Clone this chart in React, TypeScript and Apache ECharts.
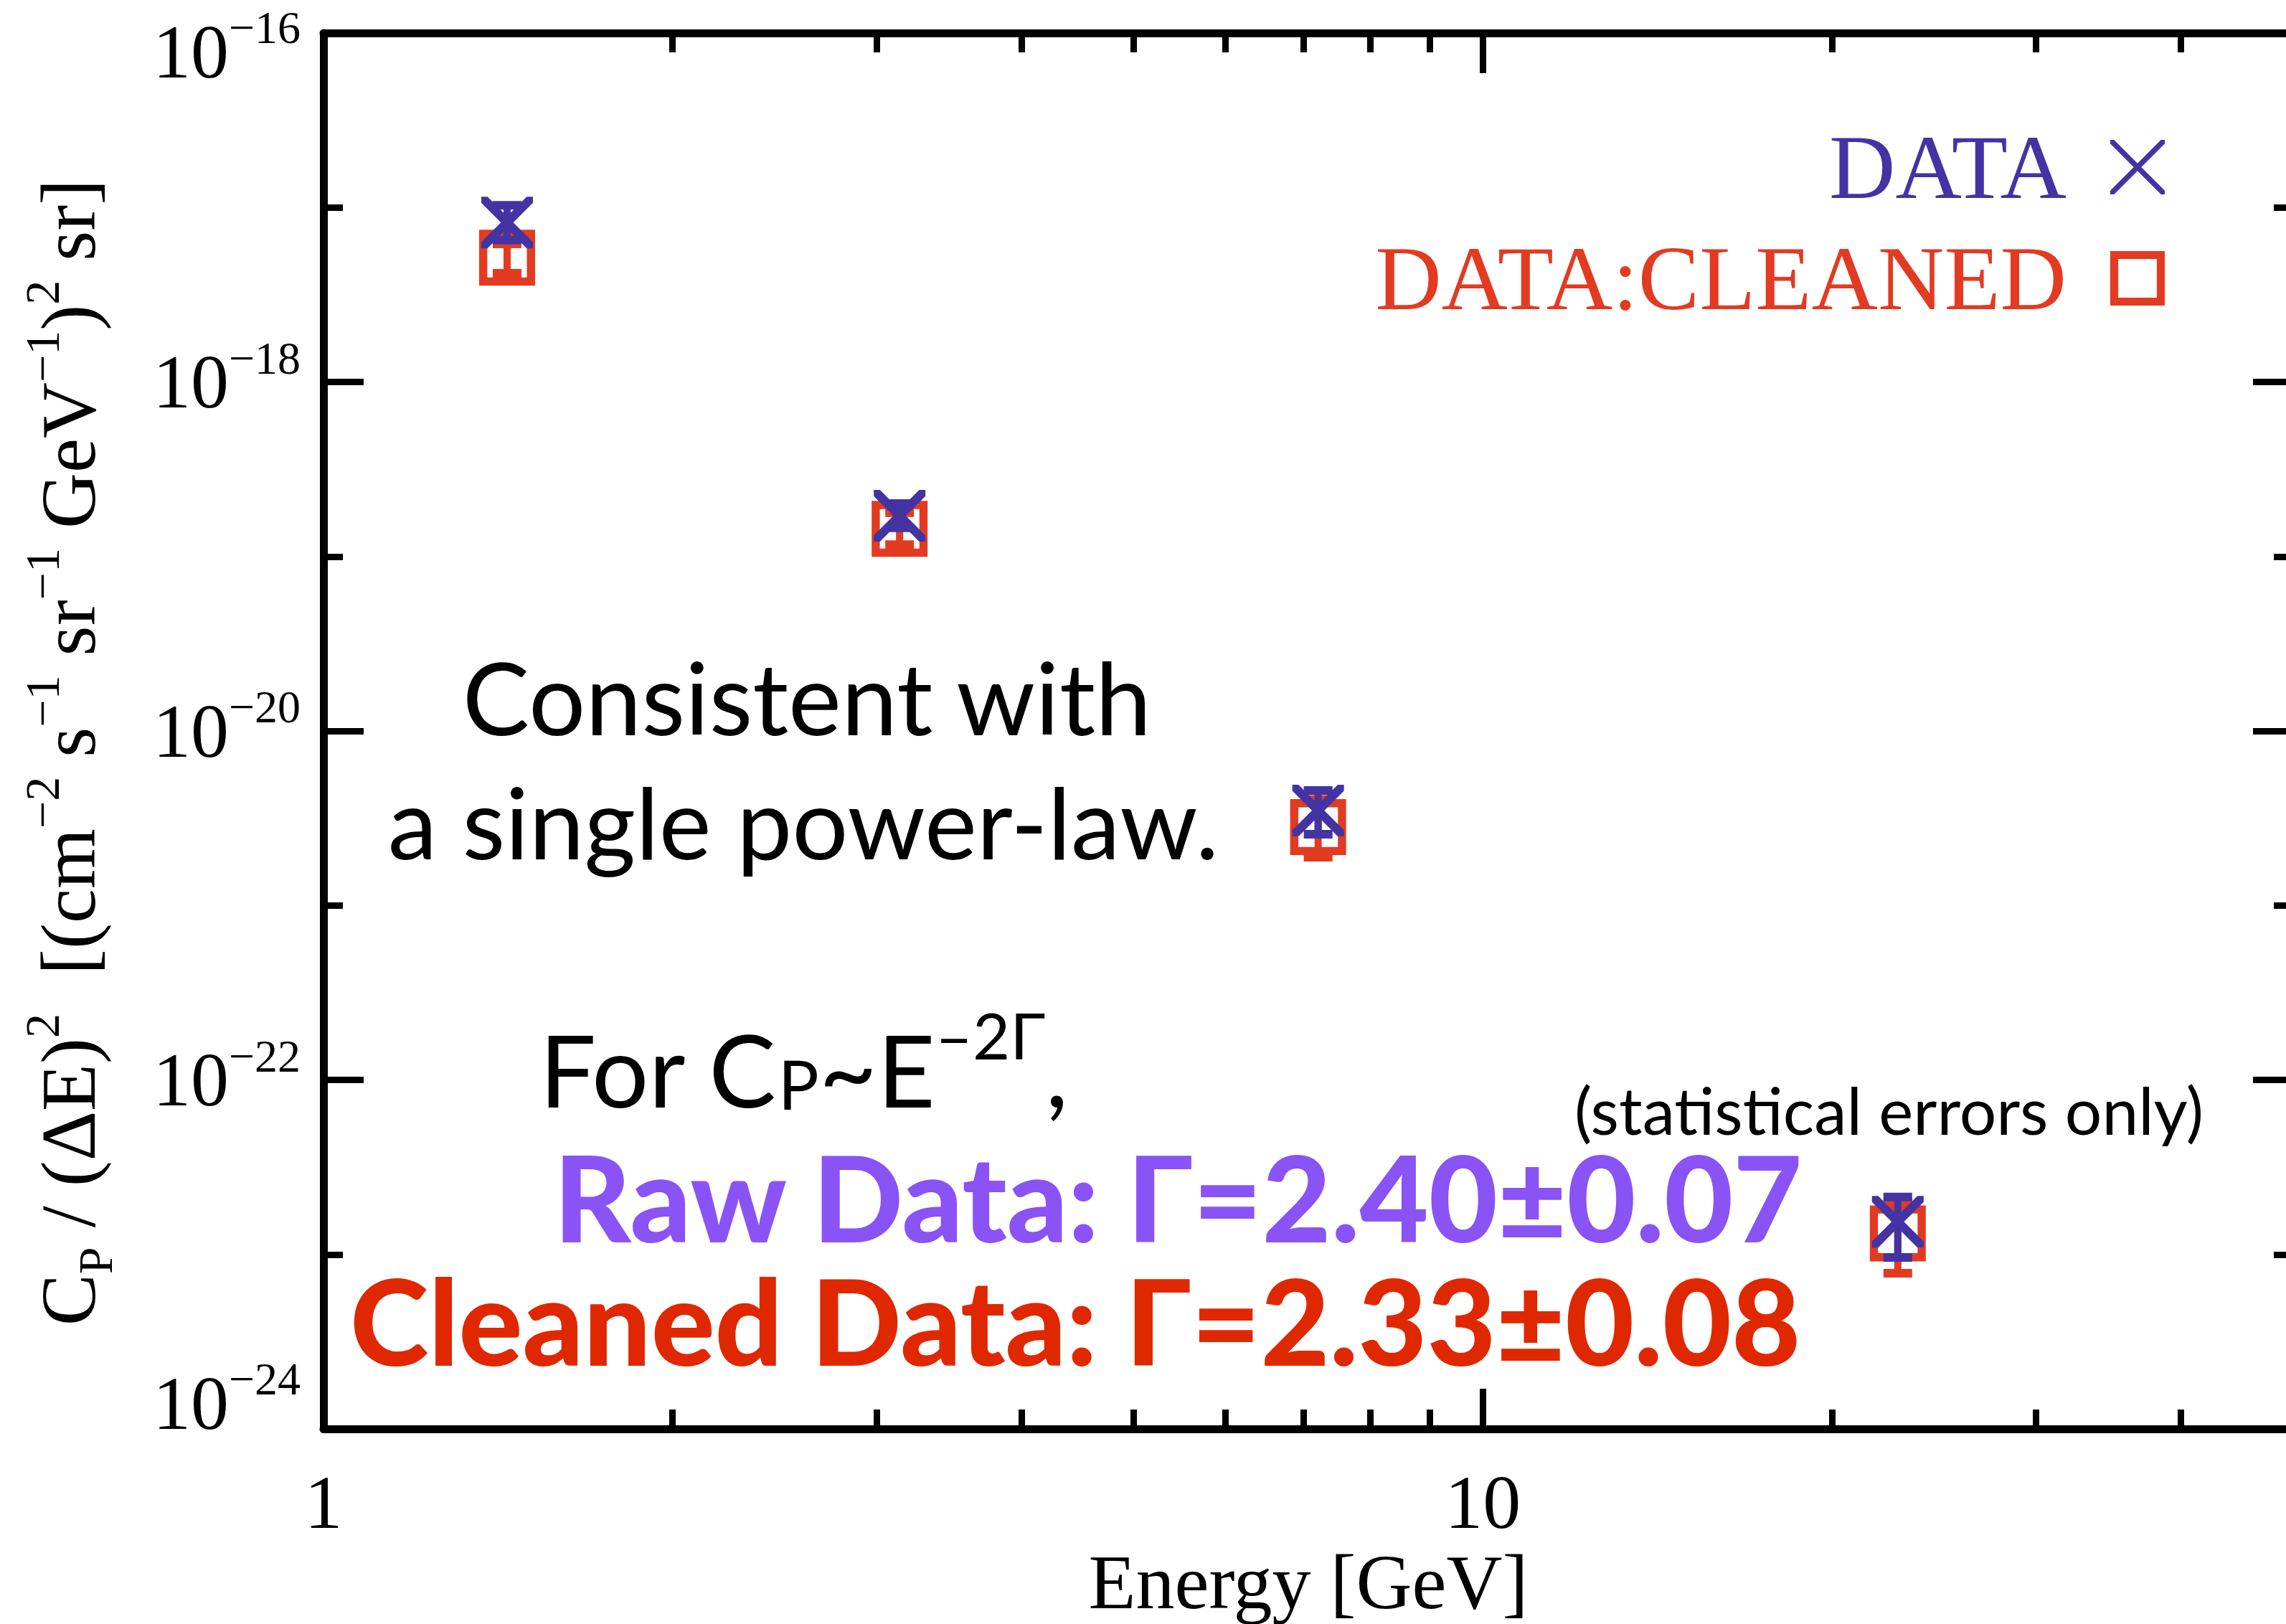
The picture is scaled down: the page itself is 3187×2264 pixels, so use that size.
import React, { useEffect, useRef } from "react";
import * as echarts from "echarts";

// ---------------- data ----------------
const ENERGY = [1.44, 3.14, 7.21, 22.8]; // GeV
const DATA_VAL = [8.2e-18, 1.71e-19, 3.5e-21, 1.54e-23];
const DATA_LO = [6.5e-18, 1.46e-19, 2.56e-21, 9.6e-24];
const DATA_HI = [1.03e-17, 2.01e-19, 4.56e-21, 2.13e-23];
const CLEAN_VAL = [5.16e-18, 1.44e-19, 2.81e-21, 1.32e-23];
const CLEAN_LO = [4.2e-18, 1.17e-19, 1.89e-21, 7.8e-24];
const CLEAN_HI = [6.18e-18, 1.78e-19, 4.05e-21, 2.0e-23];

const X_MIN = 1;
const X_MAX = 50;
const X_MAJOR_TICKS = [1, 10];
const X_MINOR_TICKS = [2, 3, 4, 5, 6, 7, 8, 9, 20, 30, 40];
const Y_MIN_EXP = -24;
const Y_MAX_EXP = -16;
const Y_LABEL_STEP = 2;

const BLUE = "#4433a3";
const RED = "#e23b22";
const PURPLE_TEXT = "#8a53f5";
const RED_TEXT = "#e02800";

const SERIF = "'Liberation Serif', 'Times New Roman', serif";
const SANS = "Lato, 'Noto Sans', sans-serif";

const X_SYMBOL =
  "path://M0,0H12L50,38L88,0H100V12L62,50L100,88V100H88L50,62L12,100H0V88L38,50L0,12Z";
const X_LEGEND =
  "path://M0,0H7L50,43L93,0H100V7L57,50L100,93V100H93L50,57L7,100H0V93L43,50L0,7Z";
const SQ_SYMBOL = "path://M0,0H82V82H0ZM12,12V70H70V12Z";

const lg = (v: number) => Math.log10(v);

function errSeries(name: string, lo: number[], hi: number[], color: string, z: number) {
  return {
    type: "custom",
    name,
    xAxisIndex: 0,
    yAxisIndex: 0,
    z,
    silent: true,
    data: ENERGY.map((e, i) => [lg(e), lg(lo[i]), lg(hi[i])]),
    encode: { x: 0, y: [1, 2] },
    renderItem: (_params: any, api: any) => {
      const x = api.value(0);
      const a = api.coord([x, api.value(1)]);
      const b = api.coord([x, api.value(2)]);
      const hw = 20;
      return {
        type: "group",
        children: [
          { type: "line", shape: { x1: a[0], y1: a[1], x2: b[0], y2: b[1] }, style: { stroke: color, lineWidth: 10 } },
          { type: "line", shape: { x1: a[0] - hw, y1: a[1], x2: a[0] + hw, y2: a[1] }, style: { stroke: color, lineWidth: 12 } },
          { type: "line", shape: { x1: b[0] - hw, y1: b[1], x2: b[0] + hw, y2: b[1] }, style: { stroke: color, lineWidth: 12 } },
        ],
      };
    },
  };
}

function xAxisDef(position: "top" | "bottom", values: number[], major: boolean, withLabels: boolean, withLine: boolean) {
  return {
    type: "value",
    position,
    min: lg(X_MIN),
    max: lg(X_MAX),
    splitLine: { show: false },
    axisLine: { show: withLine, onZero: false, lineStyle: { color: "#000", width: 11 } },
    axisTick: {
      show: true,
      inside: true,
      length: major ? 56 : 27,
      customValues: values.map(lg),
      lineStyle: { color: "#000", width: 9 },
    },
    axisLabel: withLabels
      ? {
          show: true,
          customValues: values.map(lg),
          formatter: (v: number) => String(Math.round(Math.pow(10, v))),
          margin: 49,
          fontFamily: SERIF,
          fontSize: 106,
          lineHeight: 106,
          color: "#000",
          showMinLabel: true,
          showMaxLabel: true,
        }
      : { show: false },
    name: withLabels ? "Energy [GeV]" : "",
    nameLocation: "middle",
    nameGap: 156,
    nameTextStyle: { fontFamily: SERIF, fontSize: 108, lineHeight: 108, color: "#000" },
  };
}

function yLabel(v: number) {
  const e = Math.round(v);
  const exp = "\u2212" + Math.abs(e);
  if (e === Y_MAX_EXP) return `{bt|10}{st|${exp}}`;
  if (e === Y_MIN_EXP) return `{bb|10}{sb|${exp}}`;
  return `{b|10}{s|${exp}}`;
}

const yRich = {
  b: { fontFamily: SERIF, fontSize: 106, lineHeight: 106, color: "#000" },
  s: { fontFamily: SERIF, fontSize: 64, lineHeight: 64, padding: [0, 0, 67, 0], color: "#000" },
  bt: { fontFamily: SERIF, fontSize: 106, lineHeight: 106, padding: [52, 0, 0, 0], color: "#000" },
  st: { fontFamily: SERIF, fontSize: 64, lineHeight: 64, padding: [0, 0, 15, 0], color: "#000" },
  bb: { fontFamily: SERIF, fontSize: 106, lineHeight: 106, padding: [0, 0, 72, 0], color: "#000" },
  sb: { fontFamily: SERIF, fontSize: 64, lineHeight: 64, padding: [0, 0, 139, 0], color: "#000" },
};

const nameRich = {
  n: { fontFamily: SERIF, fontSize: 108, lineHeight: 108, color: "#000" },
  sup: { fontFamily: SERIF, fontSize: 68, lineHeight: 68, padding: [0, 0, 72, 0], color: "#000" },
  sub: { fontFamily: SERIF, fontSize: 68, lineHeight: 68, padding: [76, 0, 0, 0], color: "#000" },
};

const Y_NAME =
  "{n|C}{sub|P}{n| / (\u0394E)}{sup|2}{n|  [(cm}{sup|\u22122}{n| s}{sup|\u22121}{n| sr}{sup|\u22121}{n| GeV}{sup|\u22121}{n|)}{sup|2}{n| sr]}";

function yAxisDef(position: "left" | "right", withLabels: boolean) {
  return {
    type: "value",
    position,
    min: Y_MIN_EXP,
    max: Y_MAX_EXP,
    interval: Y_LABEL_STEP,
    splitLine: { show: false },
    axisLine: { show: true, onZero: false, lineStyle: { color: "#000", width: 11 } },
    axisTick: { show: true, inside: true, length: 56, lineStyle: { color: "#000", width: 9 } },
    minorTick: { show: true, splitNumber: 2, length: 27, lineStyle: { color: "#000", width: 9 } },
    minorSplitLine: { show: false },
    axisLabel: withLabels
      ? { show: true, formatter: yLabel, margin: 32, rich: yRich, showMinLabel: true, showMaxLabel: true }
      : { show: false },
    name: withLabels ? Y_NAME : "",
    nameLocation: "middle",
    nameRotate: 90,
    nameGap: 302,
    nameTextStyle: { fontFamily: SERIF, fontSize: 108, color: "#000", rich: nameRich, padding: [0, 60, 0, 0] },
  };
}

export default function App() {
  const ref = useRef<HTMLDivElement>(null);
  useEffect(() => {
    if (!ref.current) return;
    const chart = echarts.init(ref.current, null, { renderer: "svg" });
    const option: any = {
      animation: false,
      backgroundColor: "#fff",
      grid: { left: 451, right: 23, top: 46, bottom: 272, containLabel: false, outerBoundsMode: "none" },
      xAxis: [
        xAxisDef("bottom", X_MAJOR_TICKS, true, true, true),
        xAxisDef("bottom", X_MINOR_TICKS, false, false, false),
        xAxisDef("top", X_MAJOR_TICKS, true, false, true),
        xAxisDef("top", X_MINOR_TICKS, false, false, false),
      ],
      yAxis: [yAxisDef("left", true), yAxisDef("right", false)],
      legend: {
        orient: "vertical",
        align: "right",
        right: 202,
        top: 169,
        padding: 0,
        itemWidth: 76,
        itemHeight: 78,
        itemGap: 27,
        selectedMode: false,
        textStyle: { fontFamily: SERIF, fontSize: 128, lineHeight: 78, padding: [0, 56, 0, 0] },
        data: [
          { name: "DATA", icon: X_LEGEND, itemStyle: { color: BLUE, borderWidth: 0 }, textStyle: { color: BLUE } },
          { name: "DATA:CLEANED", icon: SQ_SYMBOL, itemStyle: { color: RED, borderWidth: 0 }, textStyle: { color: RED } },
        ],
      },
      series: [
        errSeries("DATA:CLEANED errors", CLEAN_LO, CLEAN_HI, RED, 2),
        {
          type: "scatter",
          name: "DATA:CLEANED",
          z: 3,
          symbol: SQ_SYMBOL,
          symbolSize: 78,
          itemStyle: { color: RED, opacity: 1 },
          data: ENERGY.map((e, i) => [lg(e), lg(CLEAN_VAL[i])]),
        },
        errSeries("DATA errors", DATA_LO, DATA_HI, BLUE, 4),
        {
          type: "scatter",
          name: "DATA",
          z: 5,
          symbol: X_SYMBOL,
          symbolSize: 72,
          itemStyle: { color: BLUE, opacity: 1 },
          data: ENERGY.map((e, i) => [lg(e), lg(DATA_VAL[i])]),
        },
      ],
      graphic: [
        { type: "text", x: 1125, y: 971, z: 10, style: { text: "Consistent with", fontFamily: SANS, fontSize: 140, lineHeight: 140, fill: "#000", align: "center", verticalAlign: "middle" } },
        { type: "text", x: 1120, y: 1144, z: 10, style: { text: "a single power-law.", fontFamily: SANS, fontSize: 138, lineHeight: 138, fill: "#000", align: "center", verticalAlign: "middle" } },
        {
          type: "text",
          x: 752,
          y: 1490,
          z: 10,
          style: {
            text: "{n|For C}{p|P}{n|~E}{u|\u20132\u0393}{n|,}",
            align: "left",
            verticalAlign: "middle",
            rich: {
              n: { fontFamily: SANS, fontSize: 140, lineHeight: 140, fill: "#000" },
              p: { fontFamily: SANS, fontSize: 95, lineHeight: 95, padding: [40, 0, 0, 0], fill: "#000" },
              u: { fontFamily: SANS, fontSize: 90, lineHeight: 90, padding: [0, 0, 96, 0], fill: "#000" },
            },
          },
        },
        { type: "text", x: 2195, y: 1546, z: 10, style: { text: "(statistical errors only)", fontFamily: SANS, fontSize: 91, lineHeight: 80, fill: "#000", align: "left", verticalAlign: "middle" } },
        { type: "text", x: 772, y: 1667, z: 10, style: { text: "Raw Data: \u0393=2.40\u00b10.07", fontFamily: SANS, fontSize: 166, lineHeight: 130, fontWeight: 900, fill: PURPLE_TEXT, align: "left", verticalAlign: "middle" } },
        { type: "text", x: 488, y: 1839, z: 10, style: { text: "Cleaned Data: \u0393=2.33\u00b10.08", fontFamily: SANS, fontSize: 166, lineHeight: 130, fontWeight: 900, fill: RED_TEXT, align: "left", verticalAlign: "middle" } },
      ],
    };
    chart.setOption(option);
    return () => chart.dispose();
  }, []);
  return (
    <div style={{ position: "fixed", left: 0, top: 0, width: "100vw", height: "100vh", overflow: "hidden", background: "#fff" }}>
      <div ref={ref} style={{ position: "absolute", left: 0, top: 0, width: 3220, height: 2264 }} />
    </div>
  );
}
